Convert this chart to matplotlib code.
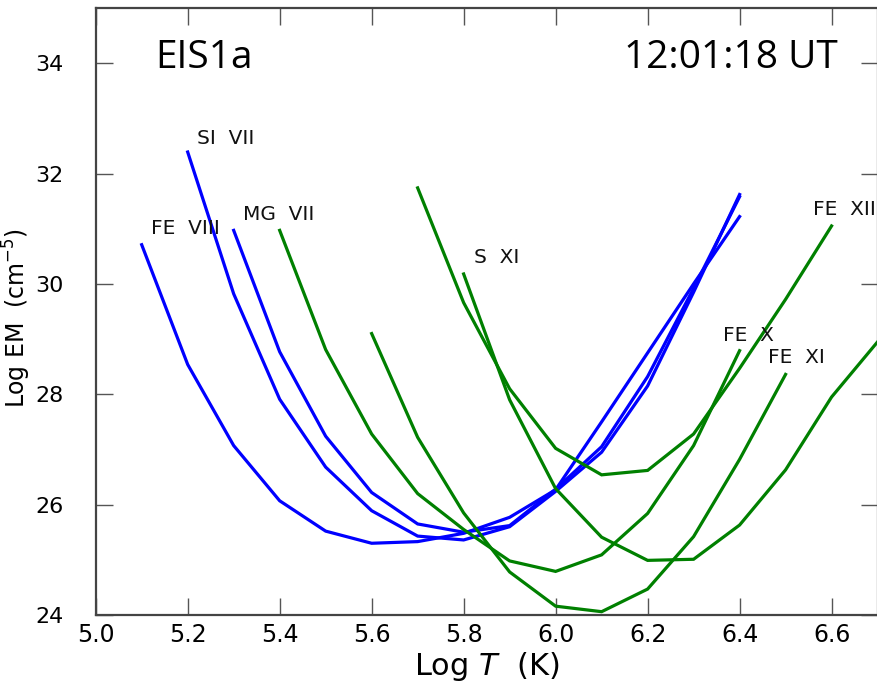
import matplotlib
matplotlib.use("Agg")
import matplotlib.pyplot as plt

# ---- data ----
fe8_x = [5.1, 5.2, 5.3, 5.4, 5.5, 5.6, 5.7, 5.8, 5.9, 6.0, 6.1, 6.2, 6.3, 6.4]
fe8_y = [30.71, 28.54, 27.07, 26.07, 25.52, 25.30, 25.33, 25.48, 25.77, 26.27, 27.50, 28.75, 30.00, 31.22]

si7_x = [5.2, 5.3, 5.4, 5.5, 5.6, 5.7, 5.8, 5.9, 6.0, 6.1, 6.2, 6.3, 6.4]
si7_y = [32.39, 29.82, 27.91, 26.68, 25.89, 25.43, 25.36, 25.60, 26.24, 26.95, 28.15, 29.85, 31.62]

mg7_x = [5.3, 5.4, 5.5, 5.6, 5.7, 5.8, 5.9, 6.0, 6.1, 6.2, 6.3, 6.4]
mg7_y = [30.97, 28.77, 27.24, 26.22, 25.65, 25.50, 25.62, 26.28, 27.05, 28.32, 29.92, 31.58]

fe10_x = [5.4, 5.5, 5.6, 5.7, 5.8, 5.9, 6.0, 6.1, 6.2, 6.3, 6.4]
fe10_y = [30.97, 28.81, 27.28, 26.20, 25.55, 24.98, 24.79, 25.09, 25.84, 27.07, 28.79]

fe11_x = [5.6, 5.7, 5.8, 5.9, 6.0, 6.1, 6.2, 6.3, 6.4, 6.5]
fe11_y = [29.10, 27.22, 25.85, 24.78, 24.16, 24.06, 24.47, 25.42, 26.82, 28.36]

fe12_x = [5.7, 5.8, 5.9, 6.0, 6.1, 6.2, 6.3, 6.4, 6.5, 6.6]
fe12_y = [31.74, 29.66, 28.10, 27.02, 26.54, 26.62, 27.28, 28.47, 29.72, 31.05]

s11_x = [5.8, 5.9, 6.0, 6.1, 6.2, 6.3, 6.4, 6.5, 6.6, 6.7]
s11_y = [30.18, 27.90, 26.29, 25.41, 24.99, 25.01, 25.63, 26.63, 27.95, 28.95]

line_names = ["FE  VIII", "SI  VII", "MG  VII", "FE  X", "FE  XI", "FE  XII", "S  XI"]
label_x = [5.121, 5.221, 5.320, 6.363, 6.461, 6.559, 5.823]
label_y = [30.91, 32.54, 31.15, 28.96, 28.56, 31.24, 30.37]

x_ticks = [5.0, 5.2, 5.4, 5.6, 5.8, 6.0, 6.2, 6.4, 6.6]
x_tick_labels = ["5.0", "5.2", "5.4", "5.6", "5.8", "6.0", "6.2", "6.4", "6.6"]
y_ticks = [24, 26, 28, 30, 32, 34]
y_tick_labels = ["24", "26", "28", "30", "32", "34"]

plt.rcParams['font.family'] = ['DejaVu Sans']
plt.rcParams['mathtext.fontset'] = 'dejavusans'

fig = plt.figure(figsize=(8.78, 6.89), dpi=100)
ax = fig.add_axes([0.109, 0.1074, 0.8905, 0.881])

series = [
    (fe8_x, fe8_y, 'blue'),
    (si7_x, si7_y, 'blue'),
    (mg7_x, mg7_y, 'blue'),
    (fe10_x, fe10_y, 'green'),
    (fe11_x, fe11_y, 'green'),
    (fe12_x, fe12_y, 'green'),
    (s11_x, s11_y, 'green'),
]
for xs, ys, c in series:
    ax.plot(xs, ys, color=c, lw=2.3, solid_joinstyle='miter')

for name, lx, ly in zip(line_names, label_x, label_y):
    ax.text(lx, ly, name, fontsize=14.5, ha='left', va='baseline', color='#111111')

ax.set_xlim(5.0, 6.7)
ax.set_ylim(24, 35)
ax.set_xticks(x_ticks)
ax.set_xticklabels(x_tick_labels)
ax.set_yticks(y_ticks)
ax.set_yticklabels(y_tick_labels)
ax.tick_params(axis='both', which='major', direction='in', length=12, width=1,
               color='#555555', labelsize=17, top=True, right=True)
ax.tick_params(axis='x', pad=6)
ax.tick_params(axis='y', pad=23, labelsize=16)
for sp in ax.spines.values():
    sp.set_color('#444444')
    sp.set_linewidth(1.6)

ax.set_xlabel(r'Log $T$  (K)', fontsize=22, labelpad=2)
ax.set_ylabel(r'Log EM  (cm$^{-5}$)', fontsize=17)
ax.yaxis.set_label_coords(-0.080, 0.49)

ax.text(0.0758, 0.901, 'EIS1a', transform=ax.transAxes, fontsize=28,
        family=['Open Sans', 'DejaVu Sans'], ha='left', va='baseline', color='black')
ax.text(0.949, 0.901, '12:01:18 UT', transform=ax.transAxes, fontsize=28,
        family=['Open Sans', 'DejaVu Sans'], ha='right', va='baseline', color='black')

fig.savefig('out.png', dpi=100)
